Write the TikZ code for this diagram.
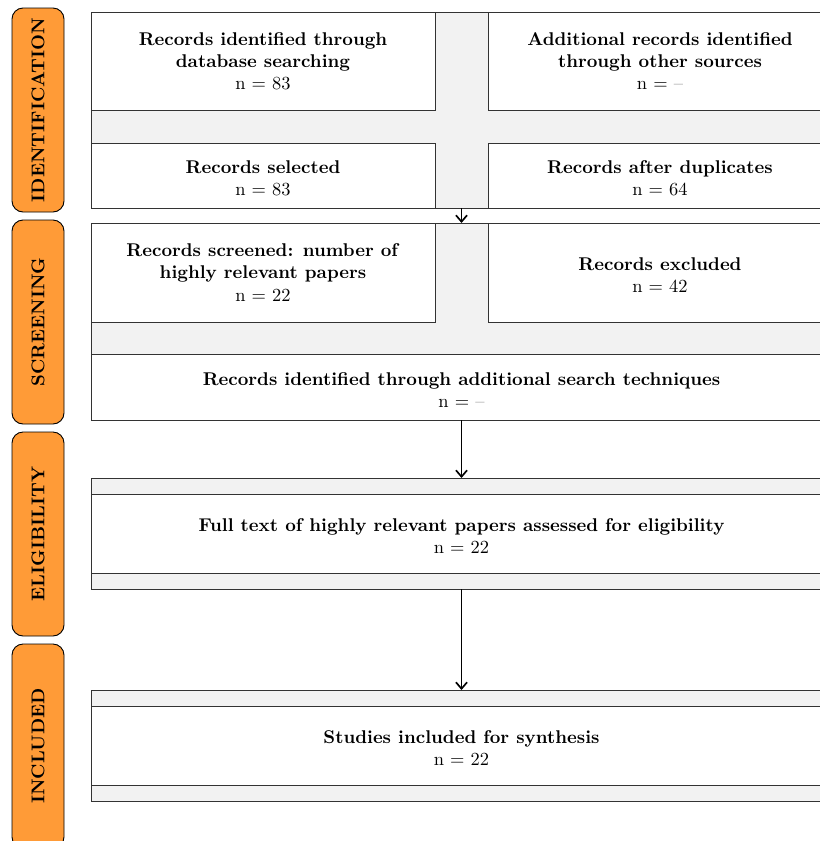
\documentclass[tikz,border=0pt]{standalone}
\usepackage{xcolor}
\usetikzlibrary{arrows.meta}
\definecolor{stageorange}{RGB}{255,155,55}
\definecolor{bggray}{RGB}{242,242,242}
\def\pxu{0.5417pt}
\begin{document}
\begin{tikzpicture}[x=0.5417pt,y=-0.5417pt,
  every node/.style={font=\fontsize{10}{12}\selectfont, inner sep=0pt, outer sep=0pt},
  stagebox/.style={draw=black, line width=0.5pt, fill=stageorange, rounded corners=6pt,
    rotate=90, minimum width=204*\pxu, minimum height=52*\pxu, font=\fontsize{10}{12}\selectfont\bfseries},
  bgbox/.style={draw=black!80, line width=0.5pt, fill=bggray},
  wbox/.style={draw=black!80, line width=0.5pt, fill=white, align=center},
  arr/.style={-{Straight Barb[length=3.5pt,width=6pt]}, line width=0.9pt, black}
]
\useasboundingbox (0,0) rectangle (819,841);
\newcommand{\nd}{{\color{black!60}--}}
\newcommand{\tstrut}{\rule{0pt}{10pt}}

% stage labels
\node[stagebox] (s1) at (38,110) {IDENTIFICATION};
\node[stagebox] (s2) at (38,322) {SCREENING};
\node[stagebox] (s3) at (38,534) {ELIGIBILITY};
\node[stagebox] (s4) at (38,746) {INCLUDED};

% identification
\node[bgbox, minimum width=741*\pxu, minimum height=196*\pxu] (idbg) at (461.5,110) {};
\node[wbox, minimum width=344*\pxu, minimum height=98*\pxu] (a) at (263,61)
  {\textbf{Records identified through}\\\textbf{database searching}\\n = 83};
\node[wbox, minimum width=344*\pxu, minimum height=98*\pxu] (b) at (660,61)
  {\textbf{Additional records identified}\\\textbf{through other sources}\\n = \nd};
\node[wbox, minimum width=344*\pxu, minimum height=65*\pxu] (c) at (263,175.5)
  {\tstrut\textbf{Records selected}\\n = 83};
\node[wbox, minimum width=344*\pxu, minimum height=65*\pxu] (d) at (660,175.5)
  {\tstrut\textbf{Records after duplicates}\\n = 64};

% screening
\node[bgbox, minimum width=741*\pxu, minimum height=197*\pxu] (scbg) at (461.5,321.5) {};
\node[wbox, minimum width=344*\pxu, minimum height=99*\pxu] (e) at (263,272.5)
  {\textbf{Records screened: number of}\\\textbf{highly relevant papers}\\n = 22};
\node[wbox, minimum width=344*\pxu, minimum height=99*\pxu] (f) at (660,272.5)
  {\tstrut\textbf{Records excluded}\\n = 42};
\node[wbox, minimum width=741*\pxu, minimum height=66*\pxu] (g) at (461.5,387)
  {\tstrut\textbf{Records identified through additional search techniques}\\n = \nd};

% eligibility
\node[bgbox, minimum width=741*\pxu, minimum height=111*\pxu] (elbg) at (461.5,533.5) {};
\node[wbox, minimum width=741*\pxu, minimum height=79*\pxu] (h) at (461.5,533.5)
  {\tstrut\textbf{Full text of highly relevant papers assessed for eligibility}\\n = 22};

% included
\node[bgbox, minimum width=741*\pxu, minimum height=111*\pxu] (inbg) at (461.5,745.5) {};
\node[wbox, minimum width=741*\pxu, minimum height=79*\pxu] (i) at (461.5,745.5)
  {\tstrut\textbf{Studies included for synthesis}\\n = 22};

% arrows
\draw[arr] (idbg.south) -- (scbg.north);
\draw[arr] (g.south) -- (elbg.north);
\draw[arr] (elbg.south) -- (inbg.north);
\end{tikzpicture}
\end{document}
